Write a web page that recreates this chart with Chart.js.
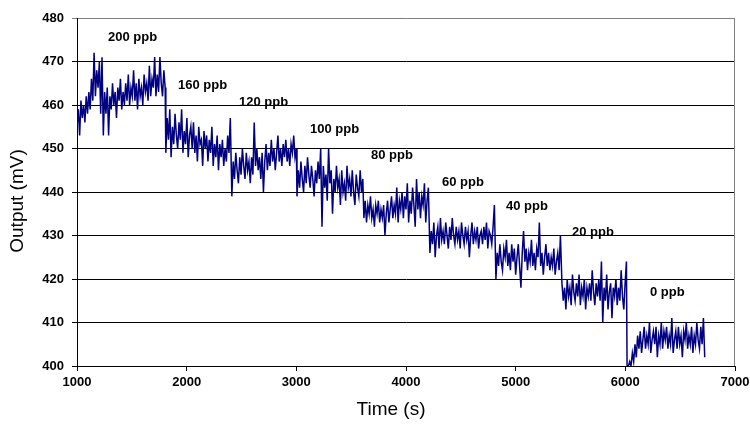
<!DOCTYPE html>
<html>
<head>
<meta charset="utf-8">
<title>Output vs time</title>
<script src="https://cdn.jsdelivr.net/npm/chart.js@4.4.1/dist/chart.umd.min.js"></script>
<style>
  html, body { margin: 0; padding: 0; background: #fff; }
  #wrap { width: 750px; height: 424px; position: relative; }
</style>
</head>
<body>
<div id="wrap"><canvas id="chart"></canvas></div>
<script>
/* ========= Data (mV) ========= */
const STEP = 12; // seconds between samples

// start time of each concentration step (s)
const segStarts = [1000, 1810, 2412, 3006, 3616, 4218, 4820, 5422, 6016];
const segNames = ["200 ppb", "160 ppb", "120 ppb", "100 ppb", "80 ppb", "60 ppb", "40 ppb", "20 ppb", "0 ppb"];

const s200 = [455, 459, 453, 461, 457, 460, 456, 462, 458, 463,
  459, 466, 461, 472, 462, 468, 464, 470, 458, 471,
  453, 463, 458, 464, 453, 462, 459, 465, 460, 463,
  457, 464, 461, 466, 459, 463, 460, 465, 461, 467,
  460, 464, 462, 468, 461, 465, 459, 466, 462, 464,
  460, 467, 463, 465, 461, 469, 462, 466, 464, 471,
  462, 467, 463, 471, 465, 462, 468, 464];
const s160 = [449, 457, 452, 459, 448, 455, 451, 458, 453, 450,
  456, 452, 459, 449, 454, 451, 457, 448, 453, 455,
  450, 456, 449, 453, 447, 455, 451, 452, 446, 454,
  450, 453, 447, 452, 449, 455, 446, 451, 448, 453,
  445, 451, 448, 452, 446, 450, 447, 453, 449, 457];
const s120 = [439, 447, 443, 449, 445, 442, 448, 444, 450, 446,
  443, 449, 445, 447, 442, 448, 444, 456, 446, 450,
  445, 448, 443, 449, 440, 447, 451, 445, 449, 446,
  452, 447, 450, 445, 449, 453, 447, 450, 446, 451,
  448, 452, 447, 450, 446, 451, 449, 453, 448, 450];
const s100 = [439, 445, 441, 447, 443, 440, 446, 442, 448, 444,
  441, 446, 443, 439, 445, 442, 447, 443, 450, 432,
  446, 441, 444, 438, 450, 442, 445, 435, 443, 440,
  446, 441, 443, 437, 445, 440, 442, 438, 446, 441,
  443, 439, 445, 440, 437, 444, 441, 439, 445, 440,
  443];
const s80 = [434, 438, 433, 437, 435, 439, 434, 436, 432, 437,
  435, 438, 433, 436, 434, 437, 430, 435, 438, 433,
  436, 439, 434, 437, 435, 441, 433, 438, 436, 440,
  434, 439, 436, 442, 433, 438, 435, 441, 437, 432,
  443, 436, 440, 434, 439, 437, 442, 433, 438, 441];
const s60 = [426, 431, 428, 433, 425, 430, 432, 427, 434, 429,
  431, 428, 433, 430, 427, 432, 429, 434, 430, 428,
  432, 429, 431, 427, 433, 430, 428, 432, 429, 431,
  425, 430, 433, 428, 431, 429, 432, 427, 430, 431,
  428, 432, 429, 433, 427, 431, 430, 428, 432, 437];
const s40 = [420, 426, 423, 428, 424, 422, 427, 425, 429, 423,
  426, 422, 428, 424, 427, 421, 425, 428, 423, 418,
  426, 431, 424, 427, 422, 426, 424, 429, 423, 426,
  422, 427, 425, 433, 423, 426, 421, 425, 428, 423,
  426, 422, 425, 423, 427, 421, 424, 426, 422, 430];
const s20 = [419, 415, 418, 413, 420, 416, 418, 414, 421, 417,
  415, 419, 416, 421, 414, 418, 416, 420, 413, 418,
  416, 419, 415, 422, 417, 414, 419, 416, 420, 415,
  424, 410, 418, 415, 421, 413, 417, 419, 411, 418,
  416, 420, 414, 418, 415, 422, 416, 413, 419, 424];
const s0 = [399, 400, 401, 400, 403, 401, 405, 402, 407, 404,
  408, 403, 406, 409, 404, 407, 405, 410, 403, 406,
  408, 405, 409, 402, 407, 405, 410, 404, 408, 406,
  409, 404, 407, 405, 411, 403, 406, 408, 404, 409,
  405, 407, 402, 408, 406, 410, 404, 407, 405, 409,
  403, 407, 405, 410, 406, 404, 409, 405, 411, 402];

const segValues = [s200, s160, s120, s100, s80, s60, s40, s20, s0];

// where each concentration label sits: [time (s), mV]
const labelTime = [1283, 1921, 2477, 3125, 3681, 4328, 4912, 5514, 6225];
const labelMv = [475.6, 464.4, 460.5, 454.5, 448.5, 442.3, 436.6, 430.6, 416.8];

const xTicks = { min: 1000, max: 7000, step: 1000 };
const yTicks = { min: 400, max: 480, step: 10 };

/* ========= Build points ========= */
const points = [];
segValues.forEach((vals, s) => {
  vals.forEach((v, i) => points.push({ x: segStarts[s] + i * STEP, y: v }));
});

/* ========= Plugins ========= */
const FONT = "'Liberation Sans', Arial, sans-serif";

const frame = {
  id: "frame",
  beforeDatasetsDraw(chart) {
    const { ctx, chartArea: a } = chart;
    ctx.save();
    ctx.strokeStyle = "#808080";
    ctx.lineWidth = 1;
    ctx.beginPath();
    ctx.moveTo(a.right - 0.5, a.top);
    ctx.lineTo(a.right - 0.5, a.bottom);
    ctx.stroke();
    ctx.restore();
  },
  afterDraw(chart) {
    const { ctx, scales } = chart;
    ctx.save();
    ctx.fillStyle = "#000";
    ctx.font = "bold 13px " + FONT;
    ctx.textBaseline = "middle";
    ctx.textAlign = "left";
    segNames.forEach((name, i) => {
      ctx.fillText(name, scales.x.getPixelForValue(labelTime[i]), scales.y.getPixelForValue(labelMv[i]));
    });
    // axis titles
    ctx.font = "19px " + FONT;
    ctx.textAlign = "center";
    ctx.fillText("Time (s)", 391, 410);
    ctx.translate(18, 201);
    ctx.rotate(-Math.PI / 2);
    ctx.fillText("Output (mV)", 0, 0);
    ctx.restore();
  }
};

/* ========= Chart ========= */
new Chart(document.getElementById("chart"), {
  type: "line",
  data: {
    datasets: [{
      data: points,
      borderColor: "#000080",
      borderWidth: 1.5,
      pointRadius: 0,
      tension: 0,
      fill: false
    }]
  },
  options: {
    responsive: true,
    maintainAspectRatio: false,
    animation: false,
    events: [],
    layout: { padding: { top: 18, right: 15, left: 0, bottom: 0 } },
    plugins: { legend: { display: false }, tooltip: { enabled: false } },
    scales: {
      x: {
        type: "linear",
        min: xTicks.min,
        max: xTicks.max,
        afterFit: s => { s.height = 58; s.paddingRight = 0; s.paddingLeft = 0; },
        ticks: {
          stepSize: xTicks.step,
          color: "#000",
          padding: 4,
          maxRotation: 0,
          callback: v => String(v),
          font: { family: FONT, size: 13, weight: "bold" }
        },
        grid: { drawOnChartArea: false, drawTicks: true, tickLength: 5, color: "#000" },
        border: { color: "#000", width: 1 }
      },
      y: {
        min: yTicks.min,
        max: yTicks.max,
        afterFit: s => { s.width = 77; },
        ticks: {
          stepSize: yTicks.step,
          color: "#000",
          padding: 8,
          font: { family: FONT, size: 13, weight: "bold" }
        },
        grid: {
          tickLength: 5,
          color: c => (c.tick && c.tick.value === yTicks.max ? "#808080" : "#000")
        },
        border: { color: "#000", width: 1 }
      }
    }
  },
  plugins: [frame]
});
</script>
</body>
</html>
